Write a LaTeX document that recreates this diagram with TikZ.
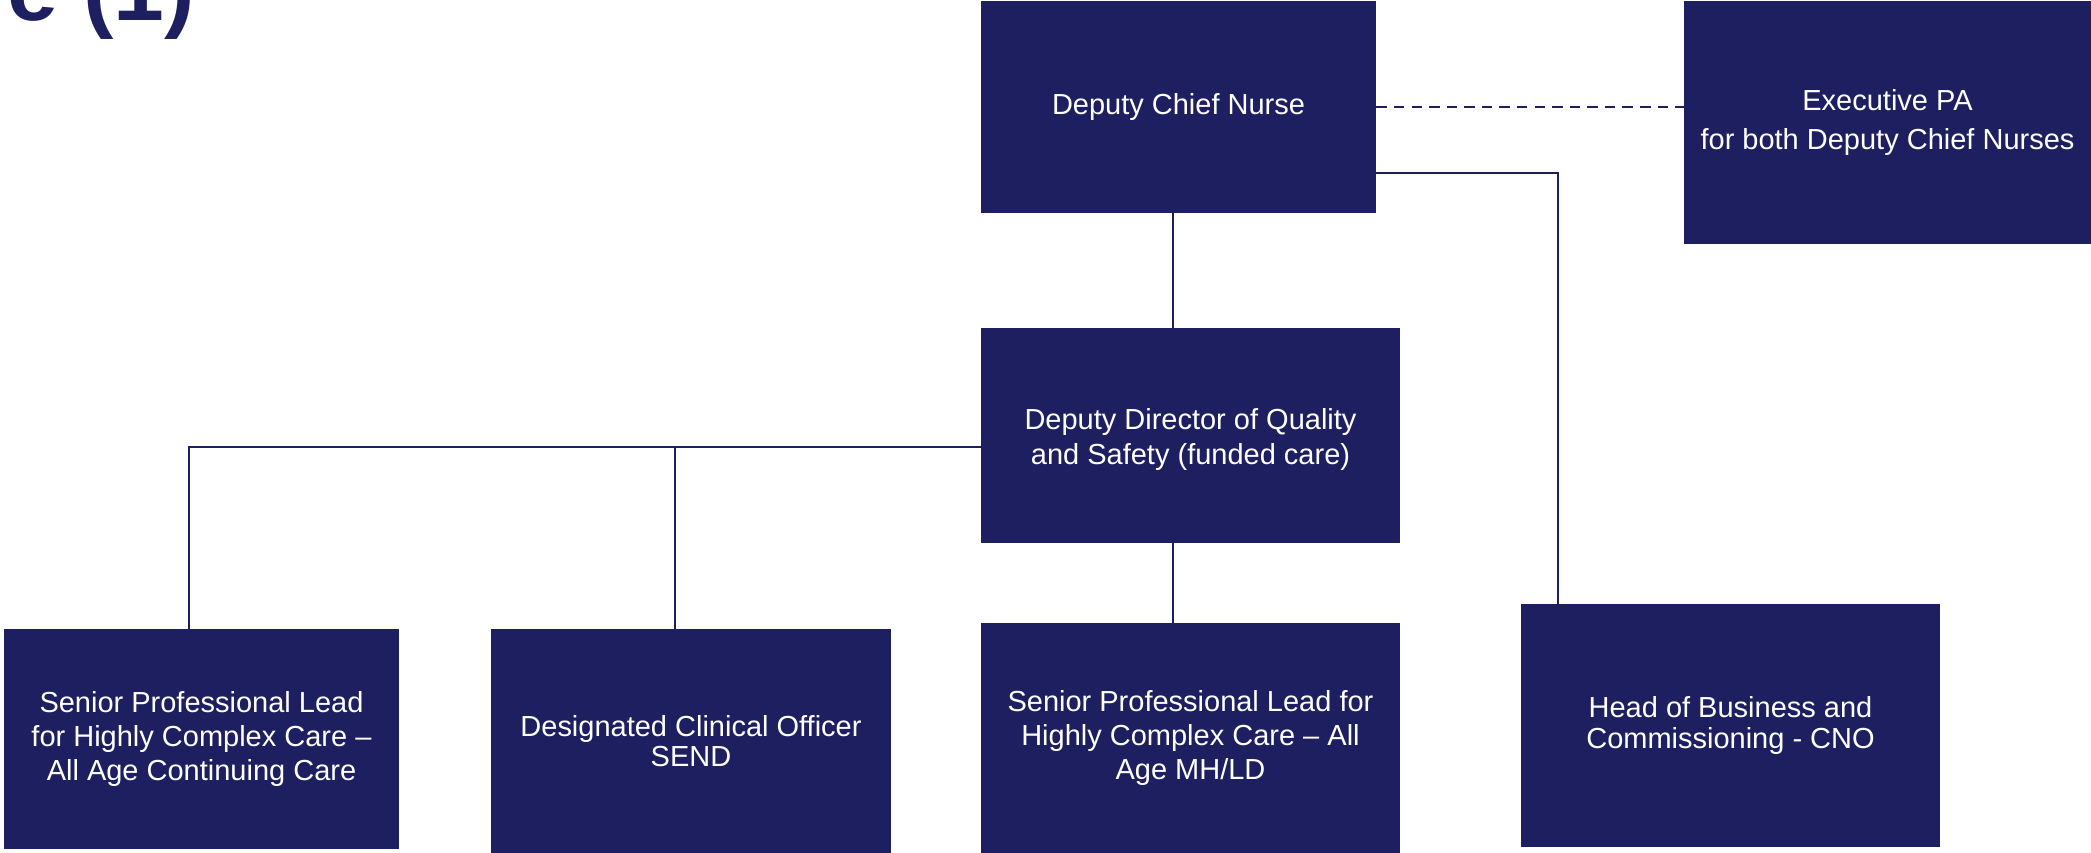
\documentclass[tikz,border=0pt]{standalone}
\usepackage{fontspec}
\setmainfont{Liberation Sans}
\definecolor{orgnavy}{RGB}{30,31,96}
\tikzset{
  orgbox/.style={fill=orgnavy, text=white, align=center, inner sep=0pt, font=\fontsize{16.5}{19.5}\selectfont},
  link/.style={draw=orgnavy, line width=1.1pt}
}
\begin{document}
\begin{tikzpicture}[scale=1]

\useasboundingbox (0,0) rectangle (41.82,-17.06);

\node [anchor=base west, inner sep=0pt, text=orgnavy, font=\fontsize{52}{60}\selectfont\bfseries] (title) at (0.14,-0.4) {e (1)};


\coordinate (spine) at (23.46,0);
\coordinate (hobturn) at (31.16,-3.46);
\coordinate (teamjoin) at (3.78,-8.94);
\coordinate (sendjoin) at (13.5,-8.94);


\node [orgbox, minimum width=7.9cm, minimum height=4.24cm] (dcn) at (23.57,-2.14) {\raisebox{0.1cm}{Deputy Chief Nurse}};
\node [orgbox, minimum width=8.14cm, minimum height=4.86cm] (pa) at (37.75,-2.45) {Executive PA\\[3pt] for both Deputy Chief Nurses};
\node [orgbox, minimum width=8.38cm, minimum height=4.3cm] (ddqs) at (23.81,-8.71) {\\[-0.1cm]Deputy Director of Quality\\ and Safety (funded care)};

\node [orgbox, minimum width=7.9cm, minimum height=4.4cm] (acc) at (4.03,-14.78) {Senior Professional Lead\\ for Highly Complex Care --\\ All Age Continuing Care};
\node [orgbox, minimum width=8cm, minimum height=4.48cm] (send) at (13.82,-14.82) {Designated Clinical Officer\\[-2.5pt] SEND};
\node [orgbox, minimum width=8.38cm, minimum height=4.6cm] (mhld) at (23.81,-14.76) {Senior Professional Lead for\\ Highly Complex Care -- All\\ Age MH/LD};
\node [orgbox, minimum width=8.38cm, minimum height=4.86cm] (hob) at (34.61,-14.51) {Head of Business and\\[-1.5pt] Commissioning - CNO};


\draw [link, dash pattern=on 6pt off 4pt] (dcn.east) -- (dcn.east -| pa.west);
\draw [link] (dcn.east |- hobturn) -- (hobturn) -- (hobturn |- hob.north);
\draw [link] (dcn.south -| spine) -- (ddqs.north -| spine);
\draw [link] (ddqs.south -| spine) -- (mhld.north -| spine);


\draw [link] (ddqs.west |- teamjoin) -- (teamjoin) -- (teamjoin |- acc.north);
\draw [link] (sendjoin) -- (sendjoin |- send.north);

\end{tikzpicture}
\end{document}
